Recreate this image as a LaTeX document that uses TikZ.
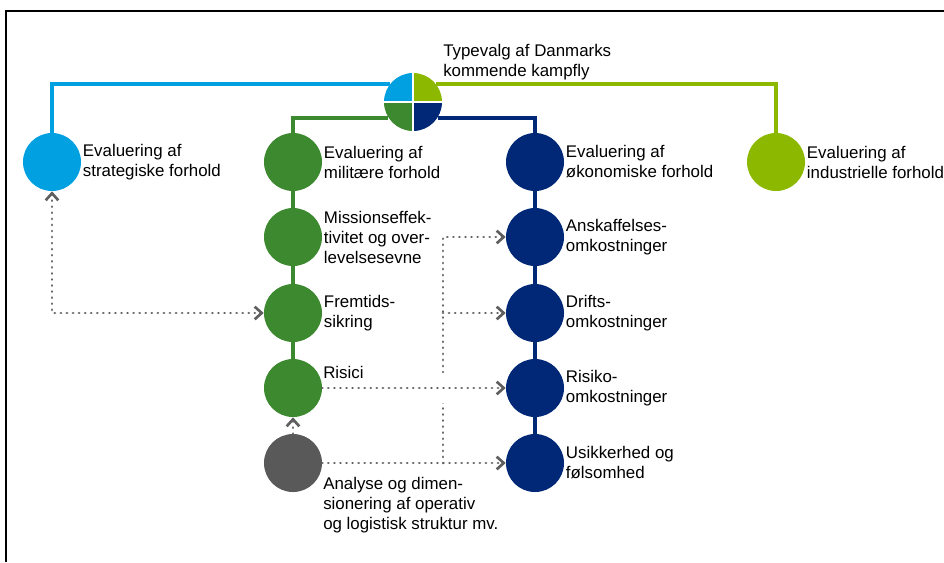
\documentclass[tikz,border=0pt]{standalone}
\usepackage{fontspec}
\setmainfont{Liberation Sans}
\usetikzlibrary{arrows.meta,positioning}

\definecolor{lyseblaa}{RGB}{0,160,225}
\definecolor{limegroen}{RGB}{140,185,0}
\definecolor{groen}{RGB}{60,137,48}
\definecolor{moerkeblaa}{RGB}{0,40,118}
\definecolor{graa}{RGB}{89,89,89}
\definecolor{prikgraa}{RGB}{95,95,95}

\begin{document}
\begin{tikzpicture}[x=0.025cm, y=-0.025cm,
    punkt/.style={circle, minimum size=1.45cm, inner sep=0pt},
    tekst/.style={anchor=west, align=left, inner sep=0pt, font=\fontsize{12}{14.2}\selectfont},
    streg/.style={line width=2.6pt},
    prik/.style={prikgraa, line width=2.1pt, line cap=round, dash pattern=on 0.01pt off 4.3pt,
        -{Straight Barb[length=5pt, width=9pt, line width=1.9pt]}},
    node distance=1pt]
    \useasboundingbox (0,0) rectangle (944,562);

    % ramme
    \draw[line width=1.6pt] (6,562) -- (6,11) -- (944,11);

    % top
    \node[punkt] (pie) at (413,102) {};
    \node[tekst] (ttype) at (443,62) {Typevalg af Danmarks\\kommende kampfly};

    % hovedomraader
    \node[punkt, fill=lyseblaa] (strat) at (52,162) {};
    \node[punkt, fill=groen] (mil) at (293,162) {};
    \node[punkt, fill=moerkeblaa] (oko) at (535,162) {};
    \node[punkt, fill=limegroen] (indu) at (776,162) {};

    % militaere
    \node[punkt, fill=groen] (mis) at (293,237) {};
    \node[punkt, fill=groen] (frem) at (293,313) {};
    \node[punkt, fill=groen] (ris) at (293,388) {};
    \node[punkt, fill=graa] (ana) at (293,463) {};

    % oekonomiske
    \node[punkt, fill=moerkeblaa] (ansk) at (535,237) {};
    \node[punkt, fill=moerkeblaa] (drift) at (535,313) {};
    \node[punkt, fill=moerkeblaa] (risk) at (535,388) {};
    \node[punkt, fill=moerkeblaa] (usik) at (535,463) {};

    \begin{scope}[shift={(pie.center)}, x=1cm, y=1cm]
        \fill[lyseblaa] (0,0) -- (180:0.725) arc[start angle=180, end angle=90, radius=0.725] -- cycle;
        \fill[limegroen] (0,0) -- (90:0.725) arc[start angle=90, end angle=0, radius=0.725] -- cycle;
        \fill[moerkeblaa] (0,0) -- (0:0.725) arc[start angle=0, end angle=-90, radius=0.725] -- cycle;
        \fill[groen] (0,0) -- (-90:0.725) arc[start angle=-90, end angle=-180, radius=0.725] -- cycle;
        \draw[white, line width=1.3pt] (-0.74,0) -- (0.74,0) (0,-0.74) -- (0,0.74);
    \end{scope}

    \draw[streg, lyseblaa] (pie.142) -| (strat);
    \draw[streg, limegroen] (pie.38) -| (indu);
    \draw[streg, groen] (pie.213) -| (mil);
    \draw[streg, moerkeblaa] (pie.-33) -| (oko);

    \draw[streg, groen] (mil) -- (mis) -- (frem) -- (ris);
    \draw[streg, moerkeblaa] (oko) -- (ansk) -- (drift) -- (risk) -- (usik);

    % tekster
    \node[tekst, right=of strat] (tstrat) {Evaluering af\\strategiske forhold};
    \node[tekst, right=of mil] (tmil) {Evaluering af\\militære forhold};
    \node[tekst, right=of oko] (toko) {Evaluering af\\økonomiske forhold};
    \node[tekst, right=of indu] (tindu) {Evaluering af\\industrielle forhold};
    \node[tekst, right=of mis] (tmis) {Missionseffek-\\tivitet og over-\\levelsesevne};
    \node[tekst, right=of frem] (tfrem) {Fremtids-\\sikring};
    \node[tekst] (tris) at (323,372) {Risici};
    \node[tekst] (tana) at (323,505) {Analyse og dimen-\\sionering af operativ\\og logistisk struktur mv.};
    \node[tekst, right=of ansk] (tansk) {Anskaffelses-\\omkostninger};
    \node[tekst, right=of drift] (tdrift) {Drifts-\\omkostninger};
    \node[tekst, right=of risk] (trisk) {Risiko-\\omkostninger};
    \node[tekst, right=of usik] (tusik) {Usikkerhed og\\følsomhed};

    % prikkede pile
    \coordinate (knude) at (443,463);
    \draw[prik, {Straight Barb[length=5pt, width=9pt, line width=1.9pt]}-{Straight Barb[length=5pt, width=9pt, line width=1.9pt]}] (strat) |- (frem);
    \draw[prik] (knude) |- (ansk);
    \draw[prik] (knude |- drift) -- (drift);
    \fill[white] (knude |- ris) circle (15);
    \draw[prik] (ris) -- (risk);
    \draw[prik] (ana) -- (usik);
    \draw[prik] (ana) -- (ris);
\end{tikzpicture}
\end{document}
